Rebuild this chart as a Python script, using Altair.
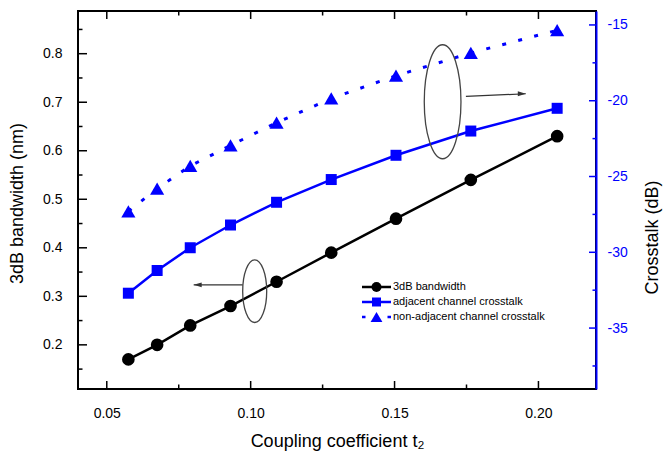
import altair as alt
import pandas as pd

# Coupling coefficient t2 sampled along the sweep
t2 = [0.0575, 0.0675, 0.079, 0.093, 0.109, 0.128, 0.1505, 0.1765, 0.2065]
# 3 dB bandwidth (nm), left axis
bandwidth = [0.17, 0.20, 0.24, 0.28, 0.33, 0.39, 0.46, 0.54, 0.63]
# Crosstalk (dB), right axis
adjacent = [-32.7, -31.2, -29.7, -28.2, -26.7, -25.2, -23.6, -22.0, -20.5]
non_adjacent = [-27.3, -25.8, -24.3, -22.95, -21.45, -19.85, -18.35, -16.85, -15.35]

series_labels = ["3dB bandwidth", "adjacent channel crosstalk", "non-adjacent channel crosstalk"]

# Axis tick values
x_major = [0.05, 0.10, 0.15, 0.20]
x_minor = [0.075, 0.125, 0.175]
left_major = [0.2, 0.3, 0.4, 0.5, 0.6, 0.7, 0.8]
left_minor = [0.15, 0.25, 0.35, 0.45, 0.55, 0.65, 0.75, 0.85]
right_major = [-35, -30, -25, -20, -15]
right_minor = [-37.5, -32.5, -27.5, -22.5, -17.5]

# Annotation ellipses (centre x, centre y on the bandwidth scale) and arrows
ellipse_x = [0.1014, 0.1667]
ellipse_y = [0.3107, 0.701]
arrow_x_start = [0.0972, 0.1748]
arrow_x_end = [0.0802, 0.1956]
arrow_y_start = [0.3237, 0.712]
arrow_y_end = [0.3237, 0.7175]

W, H = 518, 378
BLUE = "#0000ff"
FONT = "Liberation Sans"

df = pd.DataFrame({"t2": t2, "bandwidth": bandwidth,
                   "adjacent": adjacent, "non_adjacent": non_adjacent})

x_scale = alt.Scale(domain=[0.04, 0.22], nice=False, zero=False)
left_scale = alt.Scale(domain=[0.109, 0.888], nice=False, zero=False)
right_scale = alt.Scale(domain=[-39.02, -14.08], nice=False, zero=False)

x_axis = alt.Axis(title="Coupling coefficient t₂", values=x_major, format=".2f",
                  ticks=False, tickSize=0, domain=False, grid=False,
                  labelPadding=17, labelFontSize=14, labelFont=FONT, labelColor="black",
                  titleFont=FONT, titleFontSize=18, titleFontWeight="normal",
                  titleColor="black", titleBaseline="alphabetic", titleY=57)
left_axis = alt.Axis(title="3dB bandwidth (nm)", values=left_major, format=".1f",
                     ticks=False, tickSize=0, domain=False, grid=False,
                     labelPadding=16, labelFontSize=14, labelFont=FONT, labelColor="black",
                     titleFont=FONT, titleFontSize=18, titleFontWeight="normal",
                     titleColor="black", titleAngle=270, titleBaseline="middle",
                     titleAlign="center", titleX=-61, titleY=192)
right_axis = alt.Axis(orient="right", title="Crosstalk (dB)", values=right_major,
                      labelExpr="'' + datum.value",
                      ticks=False, tickSize=0, domain=True, domainColor=BLUE,
                      domainWidth=2, grid=False,
                      labelPadding=11, labelFontSize=14, labelFont=FONT, labelColor=BLUE,
                      titleFont=FONT, titleFontSize=18, titleFontWeight="normal",
                      titleColor="black", titleAngle=270, titleBaseline="middle",
                      titleAlign="center", titleX=56, titleY=226)


def xenc(field):
    # every layer shares the same x scale and the same bottom axis definition
    return alt.X(field, scale=x_scale, axis=x_axis)


base = alt.Chart(df)
X = xenc("t2:Q")

# Data series
bw_line = base.mark_line(color="black", strokeWidth=2.5).encode(
    x=X, y=alt.Y("bandwidth:Q", scale=left_scale, axis=left_axis))
adj_line = base.mark_line(color=BLUE, strokeWidth=2.5).encode(
    x=X, y=alt.Y("adjacent:Q", scale=right_scale, axis=right_axis))
non_line = base.mark_line(color=BLUE, strokeWidth=3, strokeDash=[4, 12.5]).encode(
    x=X, y=alt.Y("non_adjacent:Q", scale=right_scale, axis=None))

bw_pts = base.mark_point(shape="circle", filled=True, color="black", size=160, opacity=1).encode(
    x=X, y=alt.Y("bandwidth:Q", scale=left_scale, axis=None))
adj_pts = base.mark_point(shape="square", filled=True, color=BLUE, size=121, opacity=1).encode(
    x=X, y=alt.Y("adjacent:Q", scale=right_scale, axis=None))
non_pts = base.mark_point(shape="triangle-up", filled=True, color=BLUE, size=200, opacity=1).encode(
    x=X, y=alt.Y("non_adjacent:Q", scale=right_scale, axis=None))


# Inward-pointing tick marks on all four sides
def vticks(values, y0, y1):
    return alt.Chart(pd.DataFrame({"v": values})).mark_rule(color="black", strokeWidth=1.5).encode(
        x=xenc("v:Q"), y=alt.value(y0), y2=alt.value(y1))


def hticks(values, scale, x0, x1, color):
    return alt.Chart(pd.DataFrame({"v": values})).mark_rule(color=color, strokeWidth=1.5).encode(
        y=alt.Y("v:Q", scale=scale, axis=None), x=alt.value(x0), x2=alt.value(x1))


ticks = [
    vticks(x_major, H, H - 8), vticks(x_minor, H, H - 4.5),
    vticks(x_major, 0, 8), vticks(x_minor, 0, 4.5),
    hticks(left_major, left_scale, 0, 9, "black"),
    hticks(left_minor, left_scale, 0, 4.5, "black"),
    hticks(right_major, right_scale, W, W - 7, BLUE),
    hticks(right_minor, right_scale, W, W - 3.5, BLUE),
]

# Ellipses grouping the curves, with arrows pointing to their axes
ell_df = pd.DataFrame({"x": ellipse_x, "y": ellipse_y})
ellipse_left = alt.Chart(ell_df.iloc[[0]]).mark_point(
    shape="M -0.383 0 A 0.383 1 0 1 1 0.383 0 A 0.383 1 0 1 1 -0.383 0 Z",
    filled=False, stroke="#444444", strokeWidth=1.3, size=3931, opacity=1).encode(
    x=xenc("x:Q"), y=alt.Y("y:Q", scale=left_scale, axis=None))
ellipse_right = alt.Chart(ell_df.iloc[[1]]).mark_point(
    shape="M -0.322 0 A 0.322 1 0 1 1 0.322 0 A 0.322 1 0 1 1 -0.322 0 Z",
    filled=False, stroke="#444444", strokeWidth=1.3, size=12996, opacity=1).encode(
    x=xenc("x:Q"), y=alt.Y("y:Q", scale=left_scale, axis=None))

arr_df = pd.DataFrame({"x0": arrow_x_start, "x1": arrow_x_end,
                       "y0": arrow_y_start, "y1": arrow_y_end,
                       "head": ["M 0 0 L 1 -0.3 L 1 0.3 Z", "M 0 0 L -1 -0.3 L -1 0.3 Z"]})
arrow_shafts = alt.Chart(arr_df).mark_rule(color="#333333", strokeWidth=1.2).encode(
    x=xenc("x0:Q"), x2="x1:Q",
    y=alt.Y("y0:Q", scale=left_scale, axis=None), y2="y1:Q")
arrow_heads = alt.Chart(arr_df).mark_point(filled=True, color="#333333", size=256, opacity=1).encode(
    x=xenc("x1:Q"),
    y=alt.Y("y1:Q", scale=left_scale, axis=None),
    shape=alt.Shape("head:N", scale=None))

# Legend block
leg_df = pd.DataFrame({"label": series_labels, "row": [0, 1, 2]})
row_y = alt.Y("row:Q", scale=alt.Scale(domain=[0, 2], range=[276, 306]), axis=None)
legend_styles = [
    ("black", "circle", 100, []),
    (BLUE, "square", 81, []),
    (BLUE, "triangle-up", 140, [3.5, 22, 3.5, 22]),
]
legend_layers = []
for i, (color, shape, size, dash) in enumerate(legend_styles):
    row = alt.Chart(leg_df.iloc[[i]])
    line_kw = {"strokeDash": dash} if dash else {}
    legend_layers.append(row.mark_rule(color=color, strokeWidth=2.5, **line_kw).encode(
        y=row_y, x=alt.value(284), x2=alt.value(313)))
    legend_layers.append(row.mark_point(shape=shape, filled=True, color=color, size=size, opacity=1).encode(
        y=row_y, x=alt.value(298.5)))
legend_text = alt.Chart(leg_df).mark_text(align="left", baseline="middle", font=FONT,
                                           fontSize=11, color="black").encode(
    y=row_y, x=alt.value(315), text="label:N")

chart = alt.layer(
    bw_line, adj_line, non_line, bw_pts, adj_pts, non_pts,
    *ticks, ellipse_left, ellipse_right, arrow_shafts, arrow_heads,
    *legend_layers, legend_text,
).resolve_scale(y="independent").properties(
    width=W, height=H,
    padding={"left": 78, "top": 11, "right": 68, "bottom": 65},
    autosize=alt.AutoSizeParams(type="none"),
    background="white",
).configure_view(stroke="black", strokeWidth=2)

chart.save("out.html", embed_options={"renderer": "svg", "actions": False})
